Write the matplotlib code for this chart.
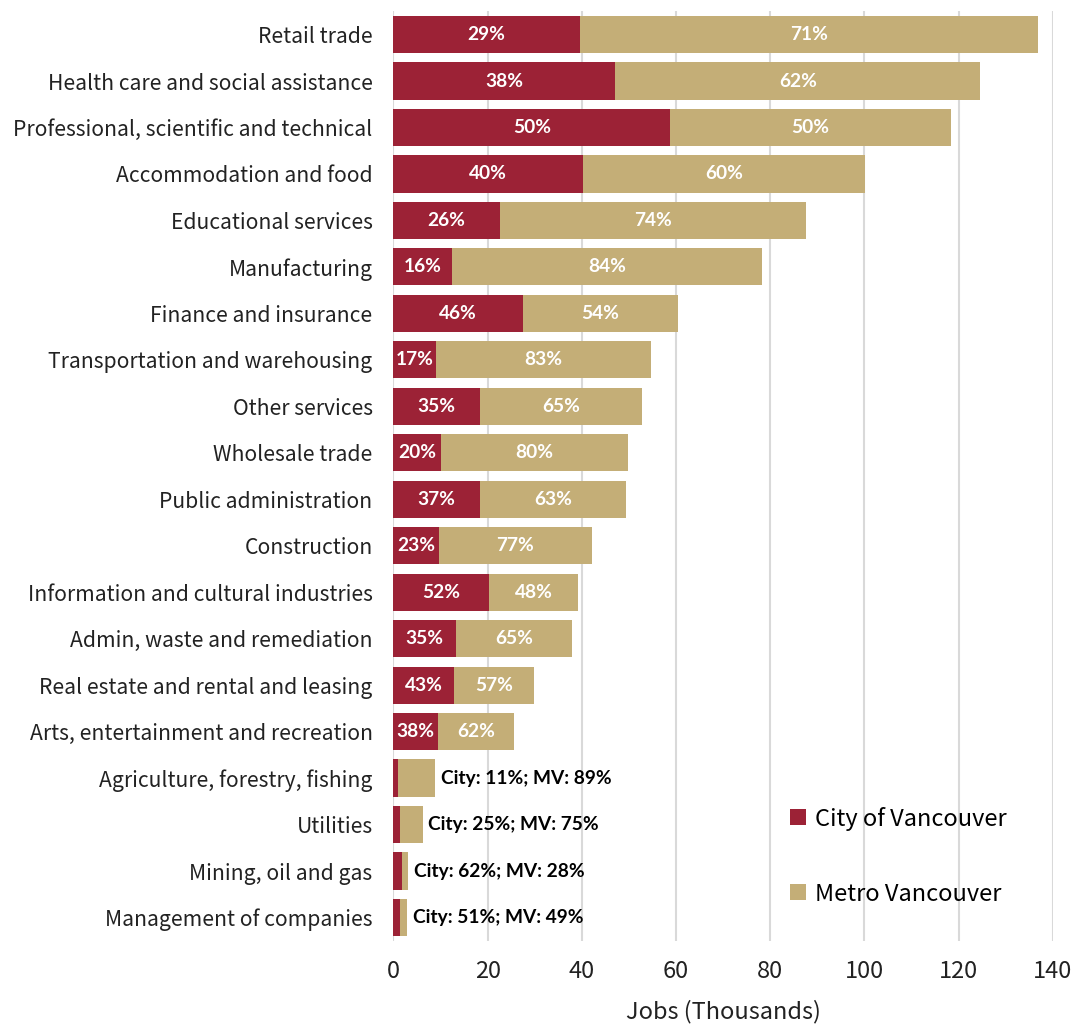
import matplotlib.pyplot as plt

# Jobs (thousands) by industry
industries = [
    "Retail trade", "Health care and social assistance",
    "Professional, scientific and technical", "Accommodation and food",
    "Educational services", "Manufacturing", "Finance and insurance",
    "Transportation and warehousing", "Other services", "Wholesale trade",
    "Public administration", "Construction",
    "Information and cultural industries", "Admin, waste and remediation",
    "Real estate and rental and leasing", "Arts, entertainment and recreation",
    "Agriculture, forestry, fishing", "Utilities", "Mining, oil and gas",
    "Management of companies",
]
city_jobs = [39.6, 47.1, 58.8, 40.2, 22.6, 12.4, 27.5, 9.1, 18.4, 10.0,
             18.3, 9.7, 20.4, 13.2, 12.8, 9.5, 0.9, 1.5, 1.9, 1.5]
total_jobs = [136.9, 124.6, 118.3, 100.2, 87.6, 78.3, 60.4, 54.7, 52.8, 49.8,
              49.4, 42.1, 39.3, 37.9, 29.9, 25.6, 8.9, 6.2, 3.2, 2.9]
mv_jobs = [t - c for t, c in zip(total_jobs, city_jobs)]
city_pct = [29, 38, 50, 40, 26, 16, 46, 17, 35, 20, 37, 23, 52, 35, 43, 38, 11, 25, 62, 51]
mv_pct = [71, 62, 50, 60, 74, 84, 54, 83, 65, 80, 63, 77, 48, 65, 57, 62, 89, 75, 28, 49]

red = "#9c2236"
tan = "#c4ae77"

plt.rcParams['font.family'] = ['Noto Sans CJK JP', 'DejaVu Sans']

fig, ax = plt.subplots(figsize=(10.72, 10.27), dpi=100)
fig.subplots_adjust(left=0.367, right=0.982, top=0.989, bottom=0.084)

y = list(range(len(industries)))
ax.barh(y, city_jobs, height=0.8, color=red, label="City of Vancouver", zorder=2)
ax.barh(y, mv_jobs, left=city_jobs, height=0.8, color=tan, label="Metro Vancouver", zorder=2)

# percentage labels
lab = dict(fontsize=13.8, fontweight='bold', family='Lato', zorder=3)
for i in y:
    if total_jobs[i] > 20:
        ax.text(city_jobs[i] / 2, i, f"{city_pct[i]}%", ha='center', va='center',
                color='white', **lab)
        ax.text(city_jobs[i] + mv_jobs[i] / 2, i, f"{mv_pct[i]}%", ha='center', va='center',
                color='white', **lab)
    else:
        ax.annotate(f"City: {city_pct[i]}%; MV: {mv_pct[i]}%", (total_jobs[i], i),
                    xytext=(4, 0), textcoords='offset points', ha='left', va='center',
                    color='black', **lab)

ax.set_ylim(len(industries) - 0.5, -0.5)
ax.set_xlim(0, 140)
ax.set_xticks(range(0, 141, 20))
ax.set_yticks(y)
ax.set_yticklabels(industries, fontsize=15.2, color='#222222')
ax.tick_params(axis='x', labelsize=17, colors='#222222', length=0, pad=14)
ax.tick_params(axis='y', length=0, pad=15)
ax.xaxis.grid(True, color='#d9d9d9', linewidth=1.5, zorder=0)
ax.set_axisbelow(True)
for s in ax.spines.values():
    s.set_visible(False)
ax.set_xlabel("Jobs (Thousands)", fontsize=17, color='#222222', labelpad=12)

ax.legend(loc='lower left', bbox_to_anchor=(0.57, 0.015), frameon=False, fontsize=17,
          handlelength=0.65, handleheight=0.65, handletextpad=0.4, labelspacing=2.2)

plt.savefig('out.png')
